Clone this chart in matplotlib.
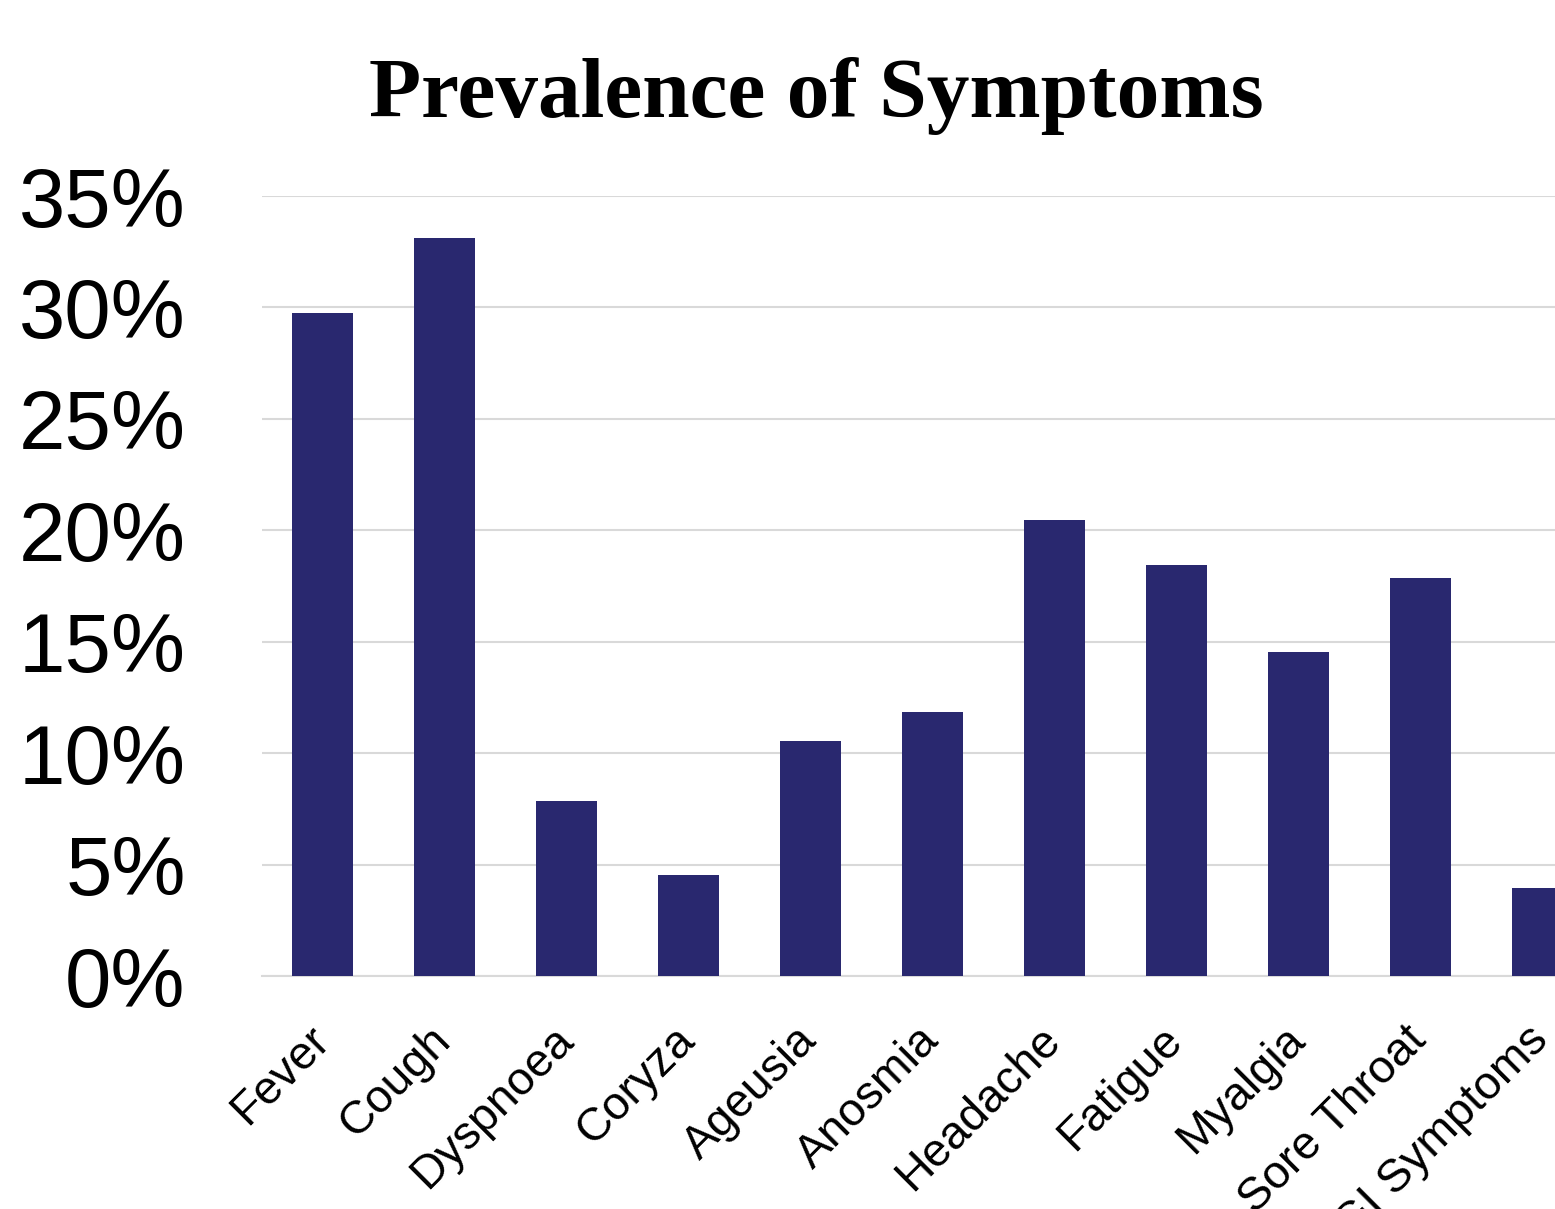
import matplotlib
matplotlib.use("Agg")
import matplotlib.pyplot as plt
from matplotlib.ticker import FuncFormatter
from matplotlib.transforms import ScaledTranslation

symptoms = ['Fever', 'Cough', 'Dyspnoea', 'Coryza', 'Ageusia', 'Anosmia',
            'Headache', 'Fatigue', 'Myalgia', 'Sore Throat', 'GI Symptoms']
prevalence = [29.75, 33.1, 7.85, 4.55, 10.55, 11.85, 20.45, 18.45, 14.55, 17.85, 3.95]
yticks = [0, 5, 10, 15, 20, 25, 30, 35]

fig = plt.figure(figsize=(15.55, 12.09), dpi=100)
# axes runs past the right edge on purpose, like the original crop
ax = fig.add_axes([262/1555, 233/1209, 1341/1555, 780/1209])

ax.bar(range(len(symptoms)), prevalence, width=0.5, color='#29286f', zorder=3)
ax.set_xlim(-0.5, len(symptoms) - 0.5)
ax.set_ylim(0, 35)
ax.set_yticks(yticks)
ax.yaxis.set_major_formatter(FuncFormatter(lambda v, p: '%d%%' % v))
ax.grid(axis='y', color='#d9d9d9', linewidth=1.5, zorder=0)

for s in ['top', 'right', 'left']:
    ax.spines[s].set_visible(False)
ax.spines['bottom'].set_color('#d9d9d9')
ax.spines['bottom'].set_linewidth(1.5)

ax.set_xticks(range(len(symptoms)))
ax.set_xticklabels(symptoms, rotation=45, ha='right', va='top',
                   rotation_mode='anchor', fontsize=33.5, family='Liberation Sans')
ax.tick_params(axis='x', length=0, pad=30)
shift = ScaledTranslation(-0.16, 0, fig.dpi_scale_trans)
for lbl in ax.get_xticklabels():
    lbl.set_transform(lbl.get_transform() + shift)
ax.tick_params(axis='y', length=0, pad=55, labelsize=60)
for lbl in ax.get_yticklabels():
    lbl.set_family('Liberation Sans')

fig.text(816/1555, 1 - 117/1209, 'Prevalence of Symptoms', ha='center', va='baseline',
         fontsize=61.5, fontweight='bold', family='Liberation Serif')

fig.savefig('out.png', dpi=100)
